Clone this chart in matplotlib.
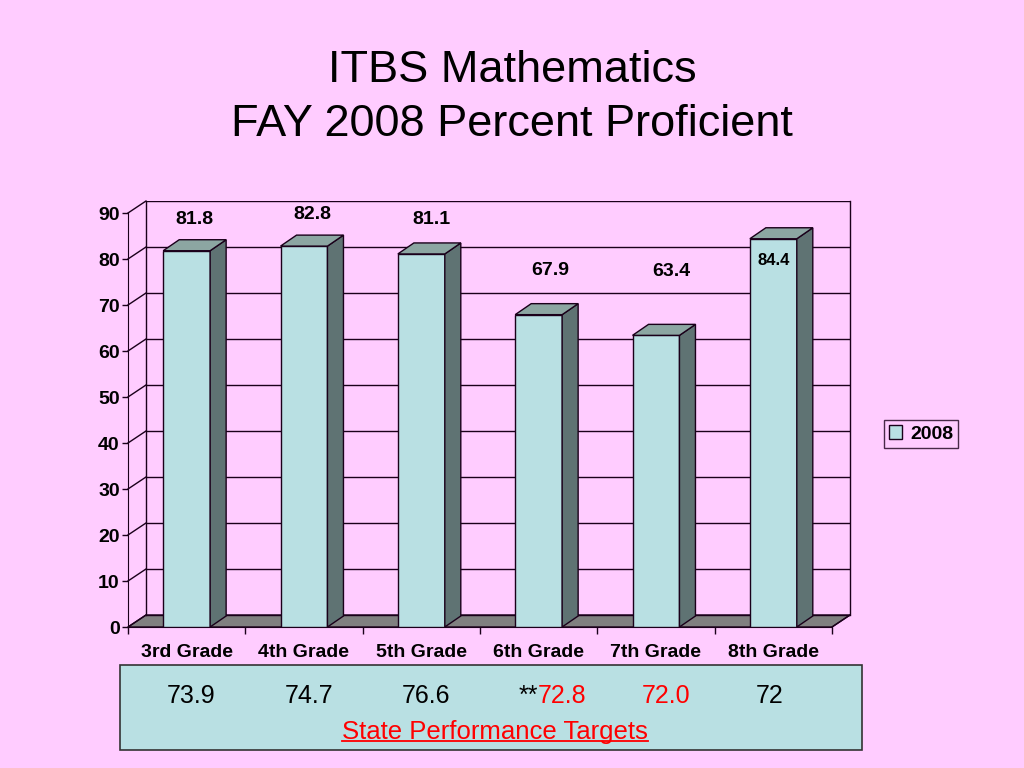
import numpy as np
import matplotlib
matplotlib.use("Agg")
import matplotlib.pyplot as plt
from matplotlib.patches import Rectangle, Polygon, Patch
from matplotlib.lines import Line2D
import matplotlib.transforms as mtransforms

plt.rcParams['font.family'] = ['Liberation Sans', 'DejaVu Sans']

# data
grades = ['3rd Grade', '4th Grade', '5th Grade', '6th Grade', '7th Grade', '8th Grade']
pct_2008 = [81.8, 82.8, 81.1, 67.9, 63.4, 84.4]
targets = ['73.9', '74.7', '76.6', '72.8', '72.0', '72']
target_red = [False, False, False, True, True, False]
target_star = [False, False, False, True, False, False]
yticks = [0, 10, 20, 30, 40, 50, 60, 70, 80, 90]

# layout (label placement)
label_y = [88.5, 89.6, 88.5, 77.6, 77.2, 79.6]
label_dx = [0.07, 0.07, 0.09, 0.10, 0.13, 0.0]
label_size = [14, 14, 14, 14, 14, 12]
target_dx = [0.04, 0.04, 0.04, 0.2, 0.09, -0.03]

BG = '#FFCCFF'
FRONT = '#B9E0E3'
SIDE = '#5F7373'
TOP = '#8CA6A2'
FLOOR = '#808080'
EDGE = '#1a001a'

fig = plt.figure(figsize=(10.24, 7.68), dpi=100, facecolor=BG)
W, H = 1024, 768
ax_l, ax_r, ax_b, ax_t = 128, 850, 627, 201
ax = fig.add_axes([ax_l / W, (768 - ax_b) / H, (ax_r - ax_l) / W, (ax_b - ax_t) / H])
ax.set_facecolor('none')

n = len(grades)
ux = (ax_r - ax_l - 18) / n
uy = (ax_b - ax_t - 12) / 90
DX, DY = 18 / ux, 12 / uy       # wall depth offset
BDX, BDY = 16 / ux, 11 / uy     # bar depth offset
hw = 0.2
x0, x1 = -0.5, n - 0.5
ax.set_xlim(x0, x1 + DX)
ax.set_ylim(0, 90 + DY)

# floor
ax.add_patch(Polygon([(x0, 0), (x1, 0), (x1 + DX, DY), (x0 + DX, DY)],
                     closed=True, facecolor=FLOOR, edgecolor=EDGE, lw=1, zorder=1))
# back wall gridlines and left wall diagonals
for t in yticks:
    ax.plot([x0 + DX, x1 + DX], [t + DY, t + DY], color=EDGE, lw=1, zorder=1)
    ax.plot([x0, x0 + DX], [t, t + DY], color=EDGE, lw=1, zorder=1, clip_on=False)
ax.plot([x0 + DX, x0 + DX], [DY, 90 + DY], color=EDGE, lw=1, zorder=1)
ax.plot([x1 + DX, x1 + DX], [DY, 90 + DY], color=EDGE, lw=1, zorder=1, clip_on=False)
ax.plot([x1, x1 + DX], [0, DY], color=EDGE, lw=1, zorder=1, clip_on=False)

# bars
for i, v in enumerate(pct_2008):
    ax.add_patch(Rectangle((i - hw, 0), 2 * hw, v, facecolor=FRONT, edgecolor=EDGE, lw=1, zorder=3))
    ax.add_patch(Polygon([(i + hw, 0), (i + hw + BDX, BDY), (i + hw + BDX, v + BDY), (i + hw, v)],
                         closed=True, facecolor=SIDE, edgecolor=EDGE, lw=1, zorder=3))
    ax.add_patch(Polygon([(i - hw, v), (i + hw, v), (i + hw + BDX, v + BDY), (i - hw + BDX, v + BDY)],
                         closed=True, facecolor=TOP, edgecolor=EDGE, lw=1, zorder=3))
    ax.text(i + label_dx[i], label_y[i], f'{v:.1f}', ha='center', va='center',
            fontsize=label_size[i], fontweight='bold', color='black', zorder=5)

# axes
for s in ['top', 'right']:
    ax.spines[s].set_visible(False)
ax.spines['left'].set_bounds(0, 90)
ax.spines['bottom'].set_bounds(x0, x1)
ax.spines['left'].set_color(EDGE)
ax.spines['bottom'].set_color(EDGE)
ax.set_yticks(yticks)
ax.set_yticklabels([str(t) for t in yticks], fontsize=14, fontweight='bold')
ax.tick_params(axis='y', length=4, width=1, pad=2, color=EDGE)
ax.set_xticks(np.arange(x0, x1 + 0.01, 1.0))
ax.set_xticklabels([])
ax.tick_params(axis='x', which='major', length=5, width=1, color=EDGE)
ax.set_xticks(np.arange(n), minor=True)
ax.set_xticklabels(grades, minor=True, fontsize=14, fontweight='bold')
ax.tick_params(axis='x', which='minor', length=0, pad=12)

# legend
leg = fig.legend(handles=[Patch(facecolor=FRONT, edgecolor=EDGE, label='2008')],
                 loc='center', bbox_to_anchor=(921 / W, 1 - 434 / H),
                 prop={'size': 14, 'weight': 'bold'}, frameon=True, fancybox=False,
                 handlelength=0.7, handleheight=0.7, handletextpad=0.4,
                 borderpad=0.25, borderaxespad=0)
leg.get_frame().set_facecolor(BG)
leg.get_frame().set_edgecolor(EDGE)
leg.get_frame().set_linewidth(1)

# titles
fig.text(0.5, 1 - 70 / H, 'ITBS Mathematics', ha='center', va='center', fontsize=32.5)
fig.text(0.5, 1 - 125 / H, 'FAY 2008 Percent Proficient', ha='center', va='center', fontsize=32.5)

# state targets box
fig.patches.append(Rectangle((120 / W, (768 - 750) / H), 742 / W, 85 / H,
                             transform=fig.transFigure, facecolor=FRONT,
                             edgecolor='#333333', lw=1.2, zorder=-1))
trans = mtransforms.blended_transform_factory(ax.transData, fig.transFigure)
ty = 1 - 696 / H
for i, t in enumerate(targets):
    col = 'red' if target_red[i] else 'black'
    tx = ax.text(i + target_dx[i], ty, t, transform=trans, ha='center', va='center',
                 fontsize=18, color=col, clip_on=False, zorder=6)
    if target_star[i]:
        ax.annotate('**', xy=(0, 0.5), xycoords=tx, ha='right', va='center',
                    fontsize=18, color='black', zorder=6)

st = fig.text(495 / W, 1 - 732 / H, 'State Performance Targets', ha='center', va='center',
              fontsize=18.5, color='red')
renderer = fig.canvas.get_renderer()
bb = st.get_window_extent(renderer)
uly = bb.y0 + 0.12 * bb.height
fig.add_artist(Line2D([bb.x0 / W, bb.x1 / W], [uly / H, uly / H], color='red', lw=1.3,
                      transform=fig.transFigure))

fig.savefig('out.png', dpi=100, facecolor=BG)
